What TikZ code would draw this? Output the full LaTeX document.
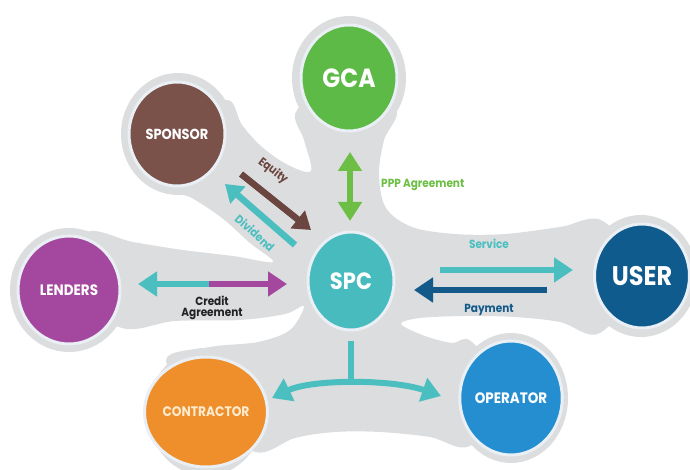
\documentclass[tikz,border=0pt]{standalone}
\usepackage{fontspec}
\usepackage{graphicx}
\setmainfont{Poppins}
\usetikzlibrary{arrows.meta,shapes.geometric}
\definecolor{blobgray}{HTML}{DCDDDF}
\definecolor{halo}{HTML}{E9EFF4}
\definecolor{gcagreen}{HTML}{5EBA46}
\definecolor{pppgreen}{HTML}{6CBE45}
\definecolor{sponsorbrown}{HTML}{7A524A}
\definecolor{equitybrown}{HTML}{6B4640}
\definecolor{spcteal}{HTML}{48BBBF}
\definecolor{arrowteal}{HTML}{4BBFC0}
\definecolor{lenderspurple}{HTML}{A4489F}
\definecolor{userblue}{HTML}{0F5B8D}
\definecolor{paymentblue}{HTML}{135A8A}
\definecolor{contractororange}{HTML}{EE8F2B}
\definecolor{contractortext}{HTML}{FDEBD0}
\definecolor{operatorblue}{HTML}{248ED0}
\definecolor{creditblack}{HTML}{222222}
\newcommand{\tallt}[1]{\scalebox{1}[1.12]{#1}}
\begin{document}
\begin{tikzpicture}[x=1pt,y=-1pt,
  sat/.style={ellipse,draw=halo,line width=3pt,inner sep=0pt,text=white,font=\bfseries},
  grayhalo/.style={fill=blobgray},
  lbl/.style={font=\bfseries\fontsize{10.5}{11}\selectfont,inner sep=1pt},
  fat/.style={line width=6pt,-{Triangle[length=19pt,width=24pt]}},
  dfat/.style={line width=6.5pt,{Triangle[length=19pt,width=23pt]}-{Triangle[length=19pt,width=23pt]}}
]
\useasboundingbox (0,0) rectangle (690,470);
% background blob
\fill[blobgray] plot[smooth cycle, tension=0.55] coordinates {
 (349,78) (396,108) (384,140) (379,175) (386,208) (412,227) (455,234) (505,234) (560,227) (603,221)
 (641,276) (600,333) (560,322) (515,317) (465,316) (420,318) (401,324)
 (425,336) (452,343) (472,342) (511,398) (470,446) (430,437) (380,432) (335,432) (295,438) (255,452)
 (206,412) (166,360) (210,347) (258,342) (290,330) (304,306)
 (285,314) (240,320) (175,321) (122,328) (69,290) (85,233) (133,242) (183,250) (233,256) (273,262)
 (250,243) (222,218) (190,197) (165,188) (176,134) (226,100) (242,125) (262,147) (288,165) (311,171)
 (304,140) (297,110)};
\fill[grayhalo] (349,78) ellipse [x radius=57pt, y radius=62pt];
\fill[grayhalo] (178,134) ellipse [x radius=57pt, y radius=61pt];
\fill[grayhalo] (69,290) ellipse [x radius=59pt, y radius=62pt];
\fill[grayhalo] (641,276) ellipse [x radius=56pt, y radius=61pt];
\fill[grayhalo] (206,412) ellipse [x radius=58pt, y radius=64pt];
\fill[grayhalo] (511,398) ellipse [x radius=57pt, y radius=65pt];
% satellites
\node[sat,fill=gcagreen,minimum width=96pt,minimum height=106pt,font=\bfseries\fontsize{23.5}{24}\selectfont] (gca) at (349,78) {\tallt{GCA}};
\node[sat,fill=sponsorbrown,minimum width=96pt,minimum height=104pt,font=\bfseries\fontsize{13}{14}\selectfont] (sponsor) at (177,134) {\tallt{SPONSOR}};
\node[sat,fill=spcteal,minimum width=86pt,minimum height=98pt,font=\bfseries\fontsize{21}{22}\selectfont] (spc) at (351,281) {\tallt{SPC}};
\node[sat,fill=lenderspurple,minimum width=102pt,minimum height=108pt,font=\bfseries\fontsize{13.5}{14}\selectfont] (lenders) at (69,290) {\tallt{LENDERS}};
\node[sat,fill=userblue,minimum width=95pt,minimum height=104pt,font=\bfseries\fontsize{24}{25}\selectfont] (user) at (642,276) {\tallt{USER}};
\node[sat,fill=contractororange,minimum width=99pt,minimum height=110pt,text=contractortext,font=\bfseries\fontsize{12.3}{13}\selectfont] (contractor) at (206,412) {\tallt{CONTRACTOR}};
\node[sat,fill=operatorblue,minimum width=97pt,minimum height=114pt,font=\bfseries\fontsize{13.5}{14}\selectfont] (operator) at (511,398) {\tallt{OPERATOR}};
% arrow end points
\coordinate (eqS) at (241,174);
\coordinate (eqE) at (311,230);
\coordinate (dvS) at (295,245);
\coordinate (dvE) at (225,184);
\coordinate (pppT) at (350,152);
\coordinate (pppB) at (350,221);
\coordinate (crL) at (138,284);
\coordinate (crM) at (210,284);
\coordinate (crR) at (287,284);
\coordinate (svS) at (440,270);
\coordinate (svE) at (573,270);
\coordinate (pmS) at (547,290);
\coordinate (pmE) at (414,290);
\coordinate (stemT) at (351,341);
\coordinate (stemB) at (351,385);
\coordinate (bl) at (272,398);
\coordinate (br) at (441,396);
% arrows
\draw[fat,equitybrown,line width=6.5pt,-{Triangle[length=17pt,width=22pt]}] (eqS) -- (eqE);
\draw[fat,arrowteal,line width=6.5pt,-{Triangle[length=17pt,width=22pt]}] (dvS) -- (dvE);
\draw[dfat,pppgreen] (pppT) -- (pppB);
\draw[fat,arrowteal] (crM) -- (crL);
\draw[fat,lenderspurple] ([xshift=-1pt]crM) -- (crR);
\draw[fat,arrowteal] (svS) -- (svE);
\draw[fat,paymentblue] (pmS) -- (pmE);
\draw[arrowteal,line width=5.5pt] (stemT) -- (stemB);
\draw[arrowteal,line width=6pt,{Triangle[length=19pt,width=24pt]}-{Triangle[length=19pt,width=24pt]}] (bl) .. controls (312,379) and (392,379) .. (br);
% labels
\node[lbl,text=equitybrown,rotate=-38] (equity) at (273,171) {\tallt{Equity}};
\node[lbl,text=arrowteal,rotate=-42] (dividend) at (255,233) {\tallt{Dividend}};
\node[lbl,text=pppgreen,anchor=west] (ppp) at (380,185) {\tallt{PPP Agreement}};
\node[lbl,text=creditblack,align=center,font=\bfseries\fontsize{10.5}{11}\selectfont] (credit) at (212,308) {\tallt{Credit}\\\tallt{Agreement}};
\node[lbl,text=arrowteal] (service) at (489,244) {\tallt{Service}};
\node[lbl,text=paymentblue] (payment) at (489,310) {\tallt{Payment}};
\end{tikzpicture}
\end{document}
